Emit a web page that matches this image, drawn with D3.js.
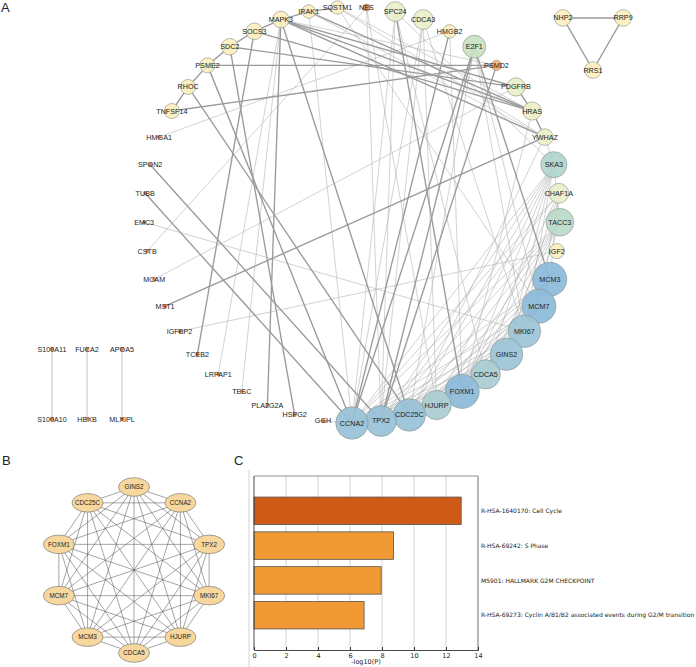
<!DOCTYPE html>
<html><head><meta charset="utf-8">
<script src="https://cdn.jsdelivr.net/npm/d3@7/dist/d3.min.js"></script>
<style>body{margin:0;background:#fff}svg{display:block}</style>
</head><body>
<svg id="chart" width="696" height="667"></svg>
<script>
// ---------- DATA ----------
// Panel A: circular network (clockwise, starting just right of top)
const circleNodes = ["NES","SPC24","CDCA3","HMGB2","E2F1","PSMD2","PDGFRB","HRAS","YWHAZ","SKA3",
  "CHAF1A","TACC3","IGF2","MCM3","MCM7","MKI67","GINS2","CDCA5","FOXM1","HJURP",
  "CDC25C","TPX2","CCNA2","GGH","HSPG2","PLA2G2A","TESC","LRPAP1","TCEB2","IGFBP2",
  "MST1","MCAM","CSTB","EMC3","TUBB","SPON2","HMGA1","TNFSF14","RHOC","PSME2",
  "SDC2","SOCS3","MAPK3","IRAK1","SQSTM1"];
const circleSize = [3,11,11,7,13,5,10,10,9,15,
  11,16,8,20,20,19,19,17,20,17,
  19,18,19,1,1,1,1,1,1,1,
  1,1,1,1,1,1,1,8,8,8,
  9,9,9,7,7];
const circleColor = [0.1,0.55,0.55,0.4,0.65,0.2,0.55,0.5,0.52,0.76,
  0.55,0.72,0.4,1,1,0.9,0.9,0.82,1,0.82,
  0.93,0.93,0.93,0,0,0,0,0,0,0,
  0,0,0,0,0,0,0,0.4,0.4,0.4,
  0.4,0.4,0.4,0.4,0.4];
const triNodes = ["NHP2","RRP9","RRS1"];
const triSize = [9,9,9];
const triColor = [0.4,0.4,0.4];
const pairTop = ["S100A11","FUCA2","APOA5"];
const pairBottom = ["S100A10","HEXB","MLXIPL"];
const clusterA = ["MCM3","MCM7","MKI67","GINS2","CDCA5","FOXM1","HJURP","CDC25C","TPX2","CCNA2"];
const edges = [
  ["TNFSF14","RHOC",2],["RHOC","PSME2",2],["PSME2","SDC2",2],["SDC2","SOCS3",2],["SOCS3","MAPK3",2],
  ["MAPK3","IRAK1",2],["IRAK1","SQSTM1",2],["PDGFRB","HRAS",2],["HRAS","YWHAZ",2],["GGH","CCNA2",1],
  ["MAPK3","HRAS",2],["MAPK3","YWHAZ",2],["MAPK3","PDGFRB",2],["IRAK1","HRAS",2],["SQSTM1","HRAS",1],
  ["SOCS3","HRAS",2],["SDC2","PDGFRB",2],["PSME2","PSMD2",2],["TNFSF14","PSMD2",2],["MAPK3","PSMD2",1],
  ["SQSTM1","YWHAZ",1],["IRAK1","YWHAZ",1],
  ["E2F1","MCM3",2],["E2F1","MCM7",1],["E2F1","CCNA2",2],["E2F1","TPX2",2],["E2F1","CDC25C",1],["E2F1","MKI67",1],
  ["SPC24","FOXM1",2],["SPC24","CCNA2",1],["SPC24","TPX2",1],["SPC24","CDCA5",1],["SPC24","SKA3",1],
  ["CDCA3","CCNA2",1],["CDCA3","TPX2",1],["CDCA3","HJURP",1],["CDCA3","MKI67",1],
  ["HMGB2","CCNA2",2],["HMGA1","HMGB2",1],["PSMD2","TPX2",2],
  ["SKA3","CCNA2",1],["SKA3","TPX2",1],["SKA3","CDC25C",1],["SKA3","HJURP",1],["SKA3","FOXM1",1],
  ["SKA3","CDCA5",1],["SKA3","GINS2",1],["SKA3","MKI67",1],["SKA3","TACC3",1],
  ["TACC3","CCNA2",1],["TACC3","TPX2",1],["TACC3","CDC25C",1],["TACC3","FOXM1",1],["TACC3","MKI67",1],
  ["TACC3","CDCA5",1],["TACC3","HJURP",1],
  ["CHAF1A","CCNA2",1],["CHAF1A","TPX2",1],["CHAF1A","MCM3",1],["CHAF1A","MCM7",1],["CHAF1A","GINS2",1],["CHAF1A","FOXM1",1],
  ["YWHAZ","MST1",2],["YWHAZ","SKA3",1],["YWHAZ","CDC25C",1],["IGF2","IGFBP2",1],["HRAS","FOXM1",1],
  ["MAPK3","PLA2G2A",2],["MAPK3","TESC",1],["MAPK3","LRPAP1",1],["MAPK3","CDC25C",2],
  ["SOCS3","TCEB2",2],["SDC2","HSPG2",2],["PSME2","CCNA2",2],["RHOC","CDC25C",2],
  ["TUBB","CCNA2",2],["SPON2","TPX2",2],["EMC3","MKI67",1],["CSTB","NES",1],["MCAM","PDGFRB",1],
  ["NES","TPX2",1],["NES","HJURP",1],["SQSTM1","MCM7",1],["IRAK1","CCNA2",1],["HMGB2","FOXM1",1],
  ["NHP2","RRP9",2],["NHP2","RRS1",2],["RRP9","RRS1",2]
];
// Panel B: 10-node hub cluster (clockwise from top)
const clusterB = ["GINS2","CCNA2","TPX2","MKI67","HJURP","CDCA5","MCM3","MCM7","FOXM1","CDC25C"];
// Panel C: enrichment
const terms = ["R-HSA-1640170: Cell Cycle","R-HSA-69242: S Phase","M5901: HALLMARK G2M CHECKPOINT",
  "R-HSA-69273: Cyclin A/B1/B2 associated events during G2/M transition"];
const termValues = [12.95, 8.72, 7.95, 6.88];
const xTicks = [0,2,4,6,8,10,12,14];

// ---------- DRAW ----------
const svg = d3.select("#chart");
const FONT = "'Liberation Sans', Arial, sans-serif";

// panel letters
[["A",1,12],["B",2,465],["C",234,465]].forEach(([t,x,y]) =>
  svg.append("text").attr("x",x).attr("y",y).text(t)
    .attr("font-family",FONT).attr("font-size",13).attr("fill","#222"));

// ===== Panel A =====
const gA = svg.append("g");
const cx = 352, cy = 215, R = 208;
const angle = d3.scaleLinear().domain([0, circleNodes.length]).range([4, 364]);
const rScale = d3.scaleLinear().domain([1, 20]).range([2, 17]);
const colorScale = d3.scaleLinear()
  .domain([0, 0.1, 0.2, 0.4, 0.55, 0.65, 0.75, 0.85, 1])
  .range(["#e07b39","#e98c4f","#f2b676","#fcefc0","#e9f0ca","#c9e2c3","#b3d6cb","#a5cad6","#8dbbda"]);

const nodes = new Map();
circleNodes.forEach((n,i) => {
  const a = angle(i) * Math.PI/180;
  nodes.set(n, {name:n, x: cx + R*Math.sin(a), y: cy - R*Math.cos(a), size: circleSize[i], c: circleColor[i]});
});
// triangle component
const tcx = 593, tcy = 35.3, tr = 34.7;
const tAngle = d3.scaleLinear().domain([0,3]).range([-60, 300]);
triNodes.forEach((n,i) => {
  const a = tAngle(i) * Math.PI/180;
  nodes.set(n, {name:n, x: tcx + tr*Math.sin(a), y: tcy - tr*Math.cos(a), size: triSize[i], c: triColor[i]});
});
// clique edges of the hub cluster
const allEdges = edges.slice();
for (let i=0;i<clusterA.length;i++) for (let j=i+1;j<clusterA.length;j++) allEdges.push([clusterA[i],clusterA[j],1]);

const edgeData = allEdges.map(e => ({s: nodes.get(e[0]), t: nodes.get(e[1]), w: e[2]}))
  .sort((a,b) => a.w - b.w);
gA.selectAll("line.e").data(edgeData).join("line")
  .attr("x1", d=>d.s.x).attr("y1", d=>d.s.y).attr("x2", d=>d.t.x).attr("y2", d=>d.t.y)
  .attr("stroke", d => d.w===2 ? "#9a9a9a" : "#b4b4b4")
  .attr("stroke-width", d => d.w===2 ? 1.35 : 0.6);

// pair components
const px = d3.scalePoint().domain(pairTop).range([52, 122]);
const pairY = [349, 419];
pairTop.forEach((n,i) => {
  gA.append("line").attr("x1",px(n)).attr("x2",px(n)).attr("y1",pairY[0]).attr("y2",pairY[1])
    .attr("stroke","#bdbdbd").attr("stroke-width",0.9);
});
const nodeArr = Array.from(nodes.values());
pairTop.forEach((n,i) => {
  nodeArr.push({name:n, x:px(n), y:pairY[0], size:1, c:0});
  nodeArr.push({name:pairBottom[i], x:px(n), y:pairY[1], size:1, c:0});
});

gA.selectAll("circle.n").data(nodeArr).join("circle")
  .attr("cx", d=>d.x).attr("cy", d=>d.y).attr("r", d=>rScale(d.size))
  .attr("fill", d=>colorScale(d.c)).attr("fill-opacity", 0.93)
  .attr("stroke", d => d.size>1 ? "#8a9088" : "none").attr("stroke-width", 0.6);
gA.selectAll("text.n").data(nodeArr).join("text")
  .attr("x", d=>d.x).attr("y", d=>d.y).attr("dy","0.35em")
  .attr("text-anchor","middle").attr("font-family",FONT).attr("font-size",7.2)
  .attr("fill","#222").text(d=>d.name);

// ===== Panel B =====
const gB = svg.append("g");
const bcx = 134, bcy = 570, bRx = 79, bRy = 83;
const bAngle = d3.scaleLinear().domain([0, clusterB.length]).range([0, 360]);
const bNodes = clusterB.map((n,i) => {
  const a = bAngle(i)*Math.PI/180;
  return {name:n, x: bcx + bRx*Math.sin(a), y: bcy - bRy*Math.cos(a)};
});
const bEdges = [];
for (let i=0;i<bNodes.length;i++) for (let j=i+1;j<bNodes.length;j++) bEdges.push([bNodes[i],bNodes[j]]);
gB.selectAll("line").data(bEdges).join("line")
  .attr("x1",d=>d[0].x).attr("y1",d=>d[0].y).attr("x2",d=>d[1].x).attr("y2",d=>d[1].y)
  .attr("stroke","#5a5a5a").attr("stroke-width",0.55);
gB.selectAll("ellipse").data(bNodes).join("ellipse")
  .attr("cx",d=>d.x).attr("cy",d=>d.y).attr("rx",15.5).attr("ry",9.3)
  .attr("fill","#f8d79e").attr("stroke","#6a6a6a").attr("stroke-width",0.6);
gB.selectAll("text").data(bNodes).join("text")
  .attr("x",d=>d.x).attr("y",d=>d.y).attr("dy","0.35em").attr("text-anchor","middle")
  .attr("font-family",FONT).attr("font-size",6.3).attr("fill","#222").text(d=>d.name);
svg.append("line").attr("x1",249).attr("x2",249).attr("y1",470).attr("y2",667)
  .attr("stroke","#c8c8c8").attr("stroke-width",0.8);

// ===== Panel C =====
const gC = svg.append("g");
const FC = "'DejaVu Sans', sans-serif";
const x = d3.scaleLinear().domain([0,14]).range([254, 478]);
const y = d3.scalePoint().domain(terms).range([476, 650]).padding(1);
const barH = y.step()*0.79;
gC.selectAll("line.grid").data(xTicks.slice(1,-1)).join("line")
  .attr("x1",d=>x(d)).attr("x2",d=>x(d)).attr("y1",476).attr("y2",650)
  .attr("stroke","#d4d4d4").attr("stroke-width",1);
gC.selectAll("rect").data(terms).join("rect")
  .attr("x", x(0)).attr("y", d=>y(d)-barH/2).attr("height", barH)
  .attr("width", (d,i)=>x(termValues[i])-x(0))
  .attr("fill", (d,i)=> i===0 ? "#cf5a18" : "#f19a35")
  .attr("stroke","#555").attr("stroke-width",0.8);
// frame
gC.append("line").attr("x1",254).attr("x2",478).attr("y1",476).attr("y2",476).attr("stroke","#777").attr("stroke-width",0.8);
gC.append("line").attr("x1",478).attr("x2",478).attr("y1",476).attr("y2",650).attr("stroke","#999").attr("stroke-width",1.4);
gC.append("line").attr("x1",254).attr("x2",254).attr("y1",476).attr("y2",650).attr("stroke","#333").attr("stroke-width",0.9);
const xAxis = gC.append("g").attr("transform","translate(0,650)")
  .call(d3.axisBottom(x).tickValues(xTicks).tickSize(-3).tickPadding(3).tickFormat(d3.format("d")));
xAxis.select(".domain").attr("stroke","#333").attr("stroke-width",0.9);
xAxis.selectAll(".tick line").attr("stroke","#333");
xAxis.selectAll("text").attr("font-family",FC).attr("font-size",6.5).attr("fill","#222");
gC.append("text").attr("x",366).attr("y",664).attr("text-anchor","middle")
  .attr("font-family",FC).attr("font-size",6.5).attr("fill","#222").text("-log10(P)");
gC.selectAll("text.term").data(terms).join("text")
  .attr("x",481).attr("y",d=>y(d)).attr("dy","0.35em")
  .attr("font-family",FC).attr("font-size",6).attr("fill","#222").text(d=>d);
</script>
</body></html>
